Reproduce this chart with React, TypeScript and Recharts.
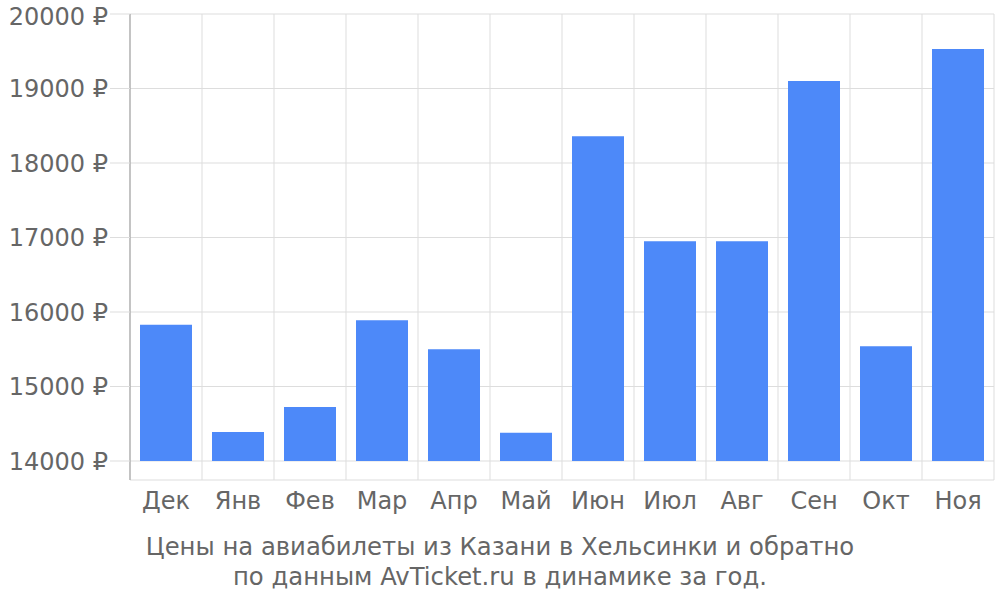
import { Bar, BarChart, CartesianGrid, XAxis, YAxis } from "recharts";

const months = ["Дек", "Янв", "Фев", "Мар", "Апр", "Май", "Июн", "Июл", "Авг", "Сен", "Окт", "Ноя"];
const prices = [15830, 14390, 14725, 15890, 15500, 14380, 18360, 16950, 16950, 19100, 15540, 19530];
const priceTicks = [14000, 15000, 16000, 17000, 18000, 19000, 20000];
const baseline = 14000;
const titleLines = [
  "Цены на авиабилеты из Казани в Хельсинки и обратно",
  "по данным AvTicket.ru в динамике за год.",
];

const data = months.map((m, i) => ({ month: m, range: [baseline, prices[i]] }));

const FONT = "'DejaVu Sans', sans-serif";
const TEXT = "#666";

function MonthTick({ x, y, payload }: any) {
  return (
    <text x={x} y={y} dy={21} textAnchor="middle" fill={TEXT} fontSize={24} fontFamily={FONT}>
      {payload.value}
    </text>
  );
}

export default function App() {
  return (
    <div style={{ position: "absolute", left: 0, top: 0, width: 1000, height: 600, background: "#fff" }}>
      <BarChart width={1000} height={600} data={data} margin={{ top: 14, right: 6, bottom: 80, left: 0 }} barCategoryGap={10}>
        <CartesianGrid
          stroke="#ddd"
          strokeWidth={1}
          verticalCoordinatesGenerator={({ offset }: any) =>
            months.map((_, i) => offset.left + (i * offset.width) / months.length).concat(offset.left + offset.width)
          }
        />
        <XAxis dataKey="month" axisLine={false} tickLine={false} height={40} tick={<MonthTick />} interval={0} />
        <YAxis
          width={130}
          domain={[13745, 20000]}
          ticks={priceTicks}
          allowDataOverflow
          tickSize={20}
          tickLine={{ stroke: "#ddd" }}
          axisLine={{ stroke: "#999" }}
          tick={{ fill: TEXT, fontSize: 24, fontFamily: FONT }}
          tickFormatter={(v) => `${v} ₽`}
        />
        <Bar dataKey="range" fill="#4d89f9" isAnimationActive={false} />
      </BarChart>
      <div
        style={{
          position: "absolute",
          left: 0,
          top: 532,
          width: 1000,
          textAlign: "center",
          color: TEXT,
          fontFamily: FONT,
          fontSize: 24.3,
          lineHeight: "30px",
        }}
      >
        {titleLines.map((l) => (
          <div key={l}>{l}</div>
        ))}
      </div>
    </div>
  );
}
